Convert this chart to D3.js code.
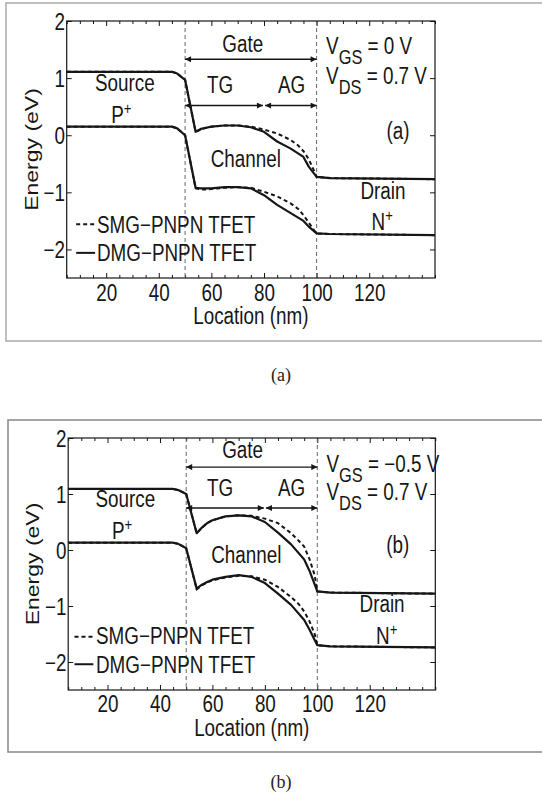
<!DOCTYPE html>
<html>
<head>
<meta charset="utf-8">
<script src="https://cdn.jsdelivr.net/npm/d3@7"></script>
<style>
  body { margin: 0; background: #fff; }
  svg { display: block; }
</style>
</head>
<body>
<svg width="542" height="796"></svg>
<script>
// ---- data ----
const xDomain = [5, 145];
const yDomain = [-2.5, 2];
const xTicks = [20, 40, 60, 80, 100, 120];
const yTicks = [-2, -1, 0, 1, 2];
const gateEdges = [50, 100];

// location (nm) of the points for each curve type
const xSolid = [5, 45, 47, 50, 54, 56, 58, 60, 65, 70, 75, 80, 85, 90, 95, 97, 100, 105, 145];
const xDashed = [5, 45, 47, 50, 54, 56, 58, 60, 65, 70, 75, 80, 85, 90, 93, 95, 97, 99, 100, 105, 145];

// (a) VGS = 0 V
const aCondDMG = [1.11, 1.11, 1.08, 0.97, 0.06, 0.11, 0.13, 0.15, 0.17, 0.17, 0.14, 0.06, -0.11, -0.23, -0.38, -0.55, -0.73, -0.75, -0.77];
const aValDMG = [0.15, 0.15, 0.12, 0.00, -0.92, -0.93, -0.93, -0.93, -0.91, -0.91, -0.93, -1.05, -1.22, -1.36, -1.50, -1.60, -1.72, -1.73, -1.75];
const aCondSMG = [1.11, 1.11, 1.08, 0.97, 0.06, 0.10, 0.13, 0.15, 0.17, 0.17, 0.15, 0.10, 0.03, -0.08, -0.18, -0.28, -0.42, -0.62, -0.73, -0.75, -0.77];
const aValSMG = [0.15, 0.15, 0.12, 0.00, -0.93, -0.95, -0.95, -0.94, -0.92, -0.91, -0.92, -0.99, -1.07, -1.19, -1.29, -1.40, -1.53, -1.66, -1.72, -1.73, -1.75];

// (b) VGS = -0.5 V
const bCondDMG = [1.09, 1.09, 1.07, 1.00, 0.30, 0.40, 0.48, 0.53, 0.60, 0.62, 0.60, 0.50, 0.31, 0.10, -0.17, -0.37, -0.74, -0.76, -0.78];
const bValDMG = [0.13, 0.13, 0.11, 0.03, -0.69, -0.62, -0.57, -0.53, -0.48, -0.45, -0.48, -0.59, -0.78, -0.98, -1.25, -1.42, -1.70, -1.72, -1.74];
const bCondSMG = [1.09, 1.09, 1.07, 1.00, 0.30, 0.40, 0.48, 0.53, 0.60, 0.62, 0.61, 0.56, 0.48, 0.30, 0.16, 0.06, -0.16, -0.45, -0.74, -0.76, -0.78];
const bValSMG = [0.13, 0.13, 0.11, 0.03, -0.70, -0.63, -0.58, -0.54, -0.49, -0.46, -0.47, -0.53, -0.66, -0.84, -0.97, -1.10, -1.27, -1.50, -1.70, -1.72, -1.74];

const legendNames = ["SMG\u2212PNPN TFET", "DMG\u2212PNPN TFET"];

// ---- drawing ----
const svg = d3.select("svg");
const FONT = "'Liberation Sans', Arial, Helvetica, sans-serif";
const SX = 0.82; // the figure's text is squeezed horizontally
const INK = "#161616";

const defs = svg.append("defs");
defs.append("marker")
  .attr("id", "arrow")
  .attr("viewBox", "0 0 10 10")
  .attr("refX", 10).attr("refY", 5)
  .attr("markerWidth", 8).attr("markerHeight", 6)
  .attr("markerUnits", "userSpaceOnUse")
  .attr("orient", "auto-start-reverse")
  .append("path")
  .attr("d", "M0,0L10,5L0,10z")
  .attr("fill", INK);

function txt(g, px, py, parts, anchor) {
  const t = g.append("text")
    .attr("transform", "translate(" + px + "," + py + ") scale(" + SX + ",1)")
    .attr("text-anchor", anchor || "middle")
    .style("font-family", FONT)
    .style("font-size", "23px")
    .style("white-space", "pre")
    .attr("fill", INK);
  parts.forEach(function (p) {
    const s = t.append("tspan").text(p.t);
    if (p.dy) s.attr("dy", p.dy);
    if (p.fs) s.style("font-size", p.fs + "px");
  });
  return t;
}

const panels = [
  {
    left: 66.7, right: 435, top: 21, bottom: 278,
    frame: { x: 6, y: 3, h: 338, color: "#aaaaaa" },
    caption: { x: 281, y: 381, t: "(a)" },
    smg: [aCondSMG, aValSMG], dmg: [aCondDMG, aValDMG],
    gateY: 1.33, subY: 0.52,
    vgs: " = 0 V", tag: "(a)",
    pos: {
      gate: [71.9, 1.46], tg: [63.3, 0.74], ag: [90.5, 0.74], source: [27.1, 0.78],
      p: [21.9, 0.22], channel: [73.1, -0.55], tag: [130.9, -0.06], vgs: [103.6, 1.42],
      vds: [103.6, 0.89], drain: [125.2, -1.12], n: [120.9, -1.66],
      leg: { x0: 8.6, x1: 15.8, tx: 16.5, y: [-1.56, -2.06], ty: [-1.71, -2.21] }
    },
    tickPad: 7, xlabY: 324, ylabX: 38
  },
  {
    left: 68.2, right: 435.3, top: 438, bottom: 690,
    frame: { x: 8, y: 420, h: 332, color: "#888888" },
    caption: { x: 281, y: 788, t: "(b)" },
    smg: [bCondSMG, bValSMG], dmg: [bCondDMG, bValDMG],
    gateY: 1.48, subY: 0.75,
    vgs: " = \u22120.5 V", tag: "(b)",
    pos: {
      gate: [71.5, 1.64], tg: [62.9, 0.96], ag: [90.2, 0.96], source: [26.8, 0.77],
      p: [21.7, 0.19], channel: [72.9, -0.23], tag: [130.7, -0.06], vgs: [103.5, 1.40],
      vds: [103.5, 0.89], drain: [124.7, -1.10], n: [122.4, -1.67],
      leg: { x0: 7.4, x1: 14.6, tx: 15.6, y: [-1.55, -2.04], ty: [-1.68, -2.20] }
    },
    tickPad: 6, xlabY: 735.5, ylabX: 39
  }
];

panels.forEach(function (p) {
  const g = svg.append("g");

  // outer figure frame (runs off the right edge)
  g.append("rect")
    .attr("x", p.frame.x).attr("y", p.frame.y)
    .attr("width", 560).attr("height", p.frame.h)
    .attr("fill", "none").attr("stroke", p.frame.color).attr("stroke-width", 1.5);

  g.append("text")
    .attr("x", p.caption.x).attr("y", p.caption.y)
    .attr("text-anchor", "middle")
    .style("font-family", "'Liberation Serif', 'Times New Roman', serif")
    .style("font-size", "18px")
    .attr("fill", "#222")
    .text(p.caption.t);

  const x = d3.scaleLinear().domain(xDomain).range([p.left, p.right]);
  const y = d3.scaleLinear().domain(yDomain).range([p.bottom, p.top]);

  // axes with inward ticks
  const minor = d3.range(5, 146, 5).filter(function (v) { return xTicks.indexOf(v) < 0; });
  const xb = g.append("g").attr("transform", "translate(0," + p.bottom + ")")
    .call(d3.axisBottom(x).tickValues(xTicks).tickSizeInner(-5).tickSizeOuter(0).tickPadding(p.tickPad).tickFormat(d3.format("d")));
  g.append("g").attr("transform", "translate(0," + p.bottom + ")")
    .call(d3.axisBottom(x).tickValues(minor).tickSizeInner(-3).tickSizeOuter(0).tickFormat(""));
  g.append("g").attr("transform", "translate(0," + p.top + ")")
    .call(d3.axisTop(x).tickValues(xTicks).tickSizeInner(-5).tickSizeOuter(0).tickFormat(""));
  g.append("g").attr("transform", "translate(0," + p.top + ")")
    .call(d3.axisTop(x).tickValues(minor).tickSizeInner(-3).tickSizeOuter(0).tickFormat(""));
  const yl = g.append("g").attr("transform", "translate(" + p.left + ",0)")
    .call(d3.axisLeft(y).tickValues(yTicks).tickSizeInner(-5).tickSizeOuter(0).tickPadding(2).tickFormat(d3.format("d")));
  g.append("g").attr("transform", "translate(" + p.right + ",0)")
    .call(d3.axisRight(y).tickValues(yTicks).tickSizeInner(-5).tickSizeOuter(0).tickFormat(""));

  g.selectAll(".domain").remove();
  g.selectAll(".tick line").attr("stroke", INK).attr("stroke-width", 1);
  [xb, yl].forEach(function (a) {
    a.selectAll("text")
      .attr("transform", "scale(" + SX + ",1)")
      .style("font-family", FONT).style("font-size", "23px").attr("fill", INK);
  });
  yl.selectAll("text").attr("dy", "0.35em");

  // gate edges
  gateEdges.forEach(function (v) {
    g.append("line")
      .attr("x1", x(v)).attr("x2", x(v)).attr("y1", p.top).attr("y2", p.bottom)
      .attr("stroke", "#666").attr("stroke-width", 1).attr("stroke-dasharray", "4,3");
  });

  // plot box
  g.append("rect")
    .attr("x", p.left).attr("y", p.top)
    .attr("width", p.right - p.left).attr("height", p.bottom - p.top)
    .attr("fill", "none").attr("stroke", INK).attr("stroke-width", 1.2);

  // band curves
  const lineS = d3.line().x(function (d, i) { return x(xSolid[i]); }).y(function (d) { return y(d); });
  const lineD = d3.line().x(function (d, i) { return x(xDashed[i]); }).y(function (d) { return y(d); });
  p.smg.forEach(function (s) {
    g.append("path").attr("d", lineD(s)).attr("fill", "none")
      .attr("stroke", INK).attr("stroke-width", 2).attr("stroke-dasharray", "4,3");
  });
  p.dmg.forEach(function (s) {
    g.append("path").attr("d", lineS(s)).attr("fill", "none")
      .attr("stroke", INK).attr("stroke-width", 2.2).attr("stroke-linejoin", "round");
  });

  // gate arrows
  function arrow(a, b, yy) {
    g.append("line")
      .attr("x1", x(a)).attr("x2", x(b)).attr("y1", y(yy)).attr("y2", y(yy))
      .attr("stroke", INK).attr("stroke-width", 1.3)
      .attr("marker-start", "url(#arrow)").attr("marker-end", "url(#arrow)");
  }
  arrow(gateEdges[0], gateEdges[1], p.gateY);
  arrow(gateEdges[0], 79.6, p.subY);
  arrow(80.4, gateEdges[1], p.subY);

  // annotations
  const q = p.pos;
  function at(k) { return [x(q[k][0]), y(q[k][1])]; }
  let c;
  c = at("gate"); txt(g, c[0], c[1], [{ t: "Gate" }]);
  c = at("tg"); txt(g, c[0], c[1], [{ t: "TG" }]);
  c = at("ag"); txt(g, c[0], c[1], [{ t: "AG" }]);
  c = at("source"); txt(g, c[0], c[1], [{ t: "Source" }]);
  c = at("p"); txt(g, c[0], c[1], [{ t: "P" }, { t: "+", dy: -9, fs: 16 }], "start");
  c = at("channel"); txt(g, c[0], c[1], [{ t: "Channel" }]);
  c = at("tag"); txt(g, c[0], c[1], [{ t: p.tag }]);
  c = at("vgs"); txt(g, c[0], c[1], [{ t: "V" }, { t: "GS", dy: 10, fs: 20 }, { t: p.vgs, dy: -10 }], "start");
  c = at("vds"); txt(g, c[0], c[1], [{ t: "V" }, { t: "DS", dy: 10, fs: 20 }, { t: " = 0.7 V", dy: -10 }], "start");
  c = at("drain"); txt(g, c[0], c[1], [{ t: "Drain" }]);
  c = at("n"); txt(g, c[0], c[1], [{ t: "N" }, { t: "+", dy: -9, fs: 16 }], "start");

  // legend (no box)
  legendNames.forEach(function (name, i) {
    g.append("line")
      .attr("x1", x(q.leg.x0)).attr("x2", x(q.leg.x1))
      .attr("y1", y(q.leg.y[i])).attr("y2", y(q.leg.y[i]))
      .attr("stroke", INK).attr("stroke-width", 2)
      .attr("stroke-dasharray", i === 0 ? "4,3" : null);
    txt(g, x(q.leg.tx), y(q.leg.ty[i]), [{ t: name }], "start");
  });

  // axis titles
  txt(g, (p.left + p.right) / 2, p.xlabY, [{ t: "Location (nm)" }]);
  g.append("text")
    .attr("transform", "translate(" + p.ylabX + "," + ((p.top + p.bottom) / 2) + ") rotate(-90) scale(1," + SX + ")")
    .attr("text-anchor", "middle")
    .style("font-family", FONT).style("font-size", "23px")
    .attr("fill", INK)
    .text("Energy (eV)");
});
</script>
</body>
</html>
